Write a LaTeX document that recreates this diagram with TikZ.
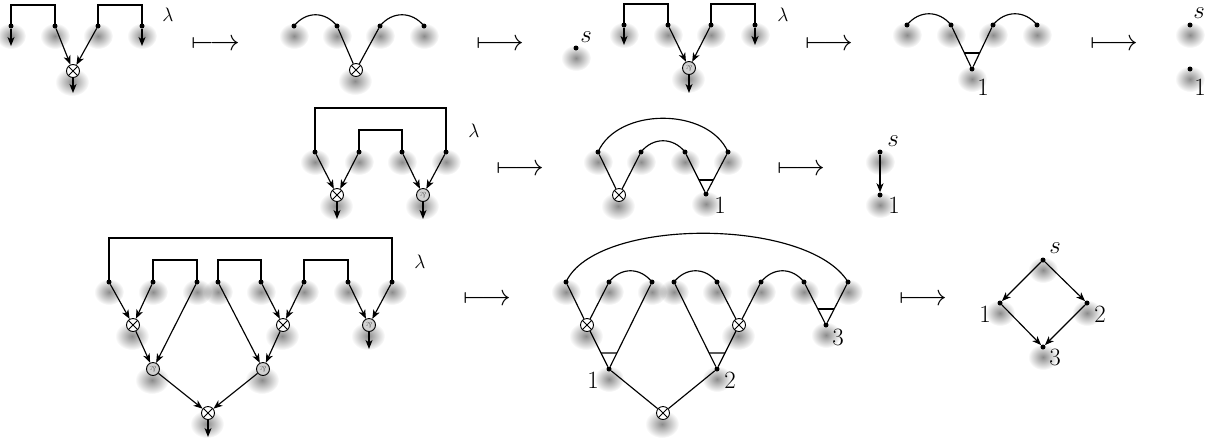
\documentclass[tikz,border=0pt]{standalone}
\usetikzlibrary{arrows.meta,calc,fadings,backgrounds}
\tikzfading[name=fuzzy,inner color=transparent!55,outer color=transparent!100]
\newcommand\prsym{\rotatebox[origin=c]{180}{\&}}
\newcommand\lbtxt[1]{\scalebox{1.2}{$#1$}}
\newcommand\lamtxt{\scalebox{1.35}{$\lambda$}}
\newcommand\mpto{\resizebox{48pt}{!}{$\longmapsto$}}
\begin{document}
\begin{tikzpicture}[x=1pt,y=-1pt,
  dot/.style={circle,fill=black,inner sep=0pt,minimum size=5pt},
  tens/.style={circle,draw,line width=0.9pt,fill=white,inner sep=0pt,minimum size=13pt,
    path picture={\draw[line width=0.8pt] (path picture bounding box.south west)--(path picture bounding box.north east) (path picture bounding box.north west)--(path picture bounding box.south east);}},
  parn/.style={circle,draw,line width=0.9pt,fill=black!18,inner sep=0pt,minimum size=13pt,text=black!60,font=\fontsize{8}{8}\selectfont},
  edge/.style={line width=1.15pt},
  arr/.style={line width=1.15pt,-{Stealth[length=9pt,width=7pt,inset=2.5pt]}},
  lbl/.style={inner sep=0pt,font=\fontsize{20.74}{24}\selectfont},
  lam/.style={inner sep=0pt,font=\fontsize{14.4}{16}\selectfont},
  mt/.style={inner sep=0pt},
  shad/.style={black,path fading=fuzzy}
]
\useasboundingbox (0,0) rectangle (1217,440);

% ---------- Row 1, graph 1 ----------
\node[dot] (g1a) at (11,26) {};
\node[dot] (g1b) at (55,26) {};
\node[dot] (g1c) at (98,26) {};
\node[dot] (g1d) at (142,26) {};
\node[tens] (g1t) at (73,71) {};
\coordinate (g1ea) at (11,46);
\coordinate (g1ed) at (142,46);
\coordinate (g1et) at (73,93);
\draw[edge] (g1a.center) -- ++(0,-21) -| (g1b.center);
\draw[edge] (g1c.center) -- ++(0,-21) -| (g1d.center);
\draw[arr] (g1a) -- (g1ea);
\draw[arr] (g1d) -- (g1ed);
\draw[arr] (g1b) -- (g1t);
\draw[arr] (g1c) -- (g1t);
\draw[arr] (g1t) -- (g1et);
\node[lam] (l1) at (168,15) {\lamtxt};
\node[mt] (m1) at (216,45) {\mpto};

% ---------- Row 1, graph 2 ----------
\node[dot] (g2a) at (294,26) {};
\node[dot] (g2b) at (337,26) {};
\node[dot] (g2c) at (380,26) {};
\node[dot] (g2d) at (424,26) {};
\node[tens] (g2t) at (356,70) {};
\draw[edge] (g2a.center) .. controls +(12,-15) and +(-12,-15) .. (g2b.center);
\draw[edge] (g2c.center) .. controls +(12,-15) and +(-12,-15) .. (g2d.center);
\draw[edge] (g2b) -- (g2t);
\draw[edge] (g2c) -- (g2t);
\node[mt] (m2) at (500,45) {\mpto};
\node[dot] (s1) at (576,48) {};
\node[lbl] (s1l) at (586,37) {\lbtxt{s}};

% ---------- Row 1, graph 3 ----------
\node[dot] (g3a) at (624,25) {};
\node[dot] (g3b) at (668,25) {};
\node[dot] (g3c) at (711,25) {};
\node[dot] (g3d) at (755,25) {};
\node[parn] (g3p) at (689,68) {\prsym};
\coordinate (g3ea) at (624,45);
\coordinate (g3ed) at (755,45);
\coordinate (g3ep) at (689,93);
\draw[edge] (g3a.center) -- ++(0,-21) -| (g3b.center);
\draw[edge] (g3c.center) -- ++(0,-21) -| (g3d.center);
\draw[arr] (g3a) -- (g3ea);
\draw[arr] (g3d) -- (g3ed);
\draw[arr] (g3b) -- (g3p);
\draw[arr] (g3c) -- (g3p);
\draw[arr] (g3p) -- (g3ep);
\node[lam] (l3) at (783,15) {\lamtxt};
\node[mt] (m3) at (829,45) {\mpto};

% ---------- Row 1, graph 4 ----------
\node[dot] (g4a) at (907,25) {};
\node[dot] (g4b) at (951,25) {};
\node[dot] (g4c) at (993,25) {};
\node[dot] (g4d) at (1037,25) {};
\node[dot] (g4o) at (972,69) {};
\node[lbl] (g4l) at (983,87) {\lbtxt{1}};
\draw[edge] (g4a.center) .. controls +(12,-15) and +(-12,-15) .. (g4b.center);
\draw[edge] (g4c.center) .. controls +(12,-15) and +(-12,-15) .. (g4d.center);
\draw[edge] (g4b) -- (g4o);
\draw[edge] (g4c) -- (g4o);
\draw[edge] ($(g4o)!0.364!(g4b)$) -- ($(g4o)!0.364!(g4c)$);
\node[mt] (m4) at (1114,45) {\mpto};
\node[dot] (g5s) at (1190,25) {};
\node[dot] (g5o) at (1190,69) {};
\node[lbl] (g5sl) at (1199,13) {\lbtxt{s}};
\node[lbl] (g5ol) at (1200,87) {\lbtxt{1}};

% ---------- Row 2, left ----------
\node[dot] (h1a) at (315,152) {};
\node[dot] (h1b) at (359,152) {};
\node[dot] (h1c) at (402,152) {};
\node[dot] (h1d) at (446,152) {};
\node[tens] (h1t) at (337,195) {};
\node[parn] (h1p) at (423,195) {\prsym};
\coordinate (h1et) at (337,219);
\coordinate (h1ep) at (423,219);
\draw[edge] (h1a.center) -- ++(0,-44) -| (h1d.center);
\draw[edge] (h1b.center) -- ++(0,-22) -| (h1c.center);
\draw[arr] (h1a) -- (h1t);
\draw[arr] (h1b) -- (h1t);
\draw[arr] (h1c) -- (h1p);
\draw[arr] (h1d) -- (h1p);
\draw[arr] (h1t) -- (h1et);
\draw[arr] (h1p) -- (h1ep);
\node[lam] (l5) at (474,131) {\lamtxt};
\node[mt] (m5) at (520,170) {\mpto};

% ---------- Row 2, middle ----------
\node[dot] (h2a) at (598,152) {};
\node[dot] (h2b) at (641,152) {};
\node[dot] (h2c) at (685,152) {};
\node[dot] (h2d) at (728,152) {};
\node[tens] (h2t) at (619,195) {};
\node[dot] (h2o) at (706,194) {};
\node[lbl] (h2l) at (720,205) {\lbtxt{1}};
\draw[edge] (h2a.center) .. controls +(20,-45) and +(-20,-45) .. (h2d.center);
\draw[edge] (h2b.center) .. controls +(12,-15) and +(-12,-15) .. (h2c.center);
\draw[edge] (h2a) -- (h2t);
\draw[edge] (h2b) -- (h2t);
\draw[edge] (h2c) -- (h2o);
\draw[edge] (h2d) -- (h2o);
\draw[edge] ($(h2o)!0.333!(h2c)$) -- ($(h2o)!0.333!(h2d)$);
\node[mt] (m6) at (801,170) {\mpto};
\node[dot] (h3s) at (880,152) {};
\node[dot] (h3o) at (880,195) {};
\node[lbl] (h3sl) at (893,141) {\lbtxt{s}};
\node[lbl] (h3ol) at (894,205) {\lbtxt{1}};
\draw[arr] (h3s) -- (h3o);

% ---------- Row 3, left ----------
\foreach \i/\x in {1/109,2/153,3/197,4/218,5/261,6/304,7/348,8/392}
  \node[dot] (k\i) at (\x,282) {};
\node[tens] (kA) at (133,325) {};
\node[tens] (kB) at (283,325) {};
\node[parn] (kC) at (369,325) {\prsym};
\node[parn] (kD) at (153,369) {\prsym};
\node[parn] (kE) at (263,369) {\prsym};
\node[tens] (kF) at (208,413) {};
\coordinate (kCe) at (369,349);
\coordinate (kFe) at (208,437);
\draw[edge] (k1.center) -- ++(0,-44) -| (k8.center);
\draw[edge] (k2.center) -- ++(0,-22) -| (k3.center);
\draw[edge] (k4.center) -- ++(0,-22) -| (k5.center);
\draw[edge] (k6.center) -- ++(0,-22) -| (k7.center);
\draw[arr] (k1) -- (kA);
\draw[arr] (k2) -- (kA);
\draw[arr] (kA) -- (kD);
\draw[arr] (k3) -- (kD);
\draw[arr] (k4) -- (kE);
\draw[arr] (k5) -- (kB);
\draw[arr] (k6) -- (kB);
\draw[arr] (kB) -- (kE);
\draw[arr] (k7) -- (kC);
\draw[arr] (k8) -- (kC);
\draw[arr] (kD) -- (kF);
\draw[arr] (kE) -- (kF);
\draw[arr] (kC) -- (kCe);
\draw[arr] (kF) -- (kFe);
\node[lam] (l7) at (420,262) {\lamtxt};
\node[mt] (m7) at (487,300) {\mpto};

% ---------- Row 3, middle ----------
\foreach \i/\x in {1/566,2/609,3/652,4/674,5/717,6/761,7/804,8/848}
  \node[dot] (r\i) at (\x,282) {};
\node[tens] (ra) at (587,325) {};
\node[tens] (rb) at (739,325) {};
\node[dot] (ro1) at (609,369) {};
\node[dot] (ro2) at (717,369) {};
\node[dot] (ro3) at (826,325) {};
\node[tens] (rt) at (663,413) {};
\node[lbl] (ro1l) at (593,380) {\lbtxt{1}};
\node[lbl] (ro2l) at (730,380) {\lbtxt{2}};
\node[lbl] (ro3l) at (838,337) {\lbtxt{3}};
\draw[edge] (r1.center) .. controls +(30,-65) and +(-40,-65) .. (r8.center);
\draw[edge] (r2.center) .. controls +(12,-15) and +(-12,-15) .. (r3.center);
\draw[edge] (r4.center) .. controls +(12,-15) and +(-12,-15) .. (r5.center);
\draw[edge] (r6.center) .. controls +(12,-15) and +(-12,-15) .. (r7.center);
\draw[edge] (r1) -- (ra);
\draw[edge] (r2) -- (ra);
\draw[edge] (ra) -- (ro1);
\draw[edge] (r3) -- (ro1);
\draw[edge] (r4) -- (ro2);
\draw[edge] (r5) -- (rb);
\draw[edge] (r6) -- (rb);
\draw[edge] (rb) -- (ro2);
\draw[edge] (r7) -- (ro3);
\draw[edge] (r8) -- (ro3);
\draw[edge] (ro1) -- (rt);
\draw[edge] (ro2) -- (rt);
\draw[edge] ($(ro1)!0.364!(ra)$) -- ($(ro1)!0.184!(r3)$);
\draw[edge] ($(ro2)!0.184!(r4)$) -- ($(ro2)!0.364!(rb)$);
\draw[edge] ($(ro3)!0.372!(r7)$) -- ($(ro3)!0.372!(r8)$);
\node[mt] (m8) at (923,300) {\mpto};

% ---------- Row 3, diamond ----------
\node[dot] (ds) at (1043,260) {};
\node[dot] (d1) at (1000,303) {};
\node[dot] (d2) at (1087,303) {};
\node[dot] (d3) at (1043,347) {};
\node[lbl] (dsl) at (1055,248) {\lbtxt{s}};
\node[lbl] (d1l) at (985,314) {\lbtxt{1}};
\node[lbl] (d2l) at (1100,314) {\lbtxt{2}};
\node[lbl] (d3l) at (1055,357) {\lbtxt{3}};
\draw[arr] (ds) -- (d1);
\draw[arr] (ds) -- (d2);
\draw[arr] (d1) -- (d3);
\draw[arr] (d2) -- (d3);

% ---------- shadows ----------
\begin{scope}[on background layer]
\foreach \n in {g1a,g1b,g1c,g1d,g2a,g2b,g2c,g2d,s1,g3a,g3b,g3c,g3d,g4a,g4b,g4c,g4d,g4o,g5s,g5o,
  h1a,h1b,h1c,h1d,h2a,h2b,h2c,h2d,h2o,h3s,h3o,
  k1,k2,k3,k4,k5,k6,k7,k8,r1,r2,r3,r4,r5,r6,r7,r8,ro1,ro2,ro3,ds,d1,d2,d3}
  {\fill[shad] ($(\n)+(0,10)$) ellipse [x radius=15pt,y radius=13pt];}
\foreach \n in {g1t,g2t,g3p,h1t,h1p,h2t,kA,kB,kC,kD,kE,kF,ra,rb,rt}
  {\fill[shad] ($(\n)+(-1,11)$) ellipse [x radius=17pt,y radius=14pt];}
\end{scope}
\end{tikzpicture}
\end{document}
